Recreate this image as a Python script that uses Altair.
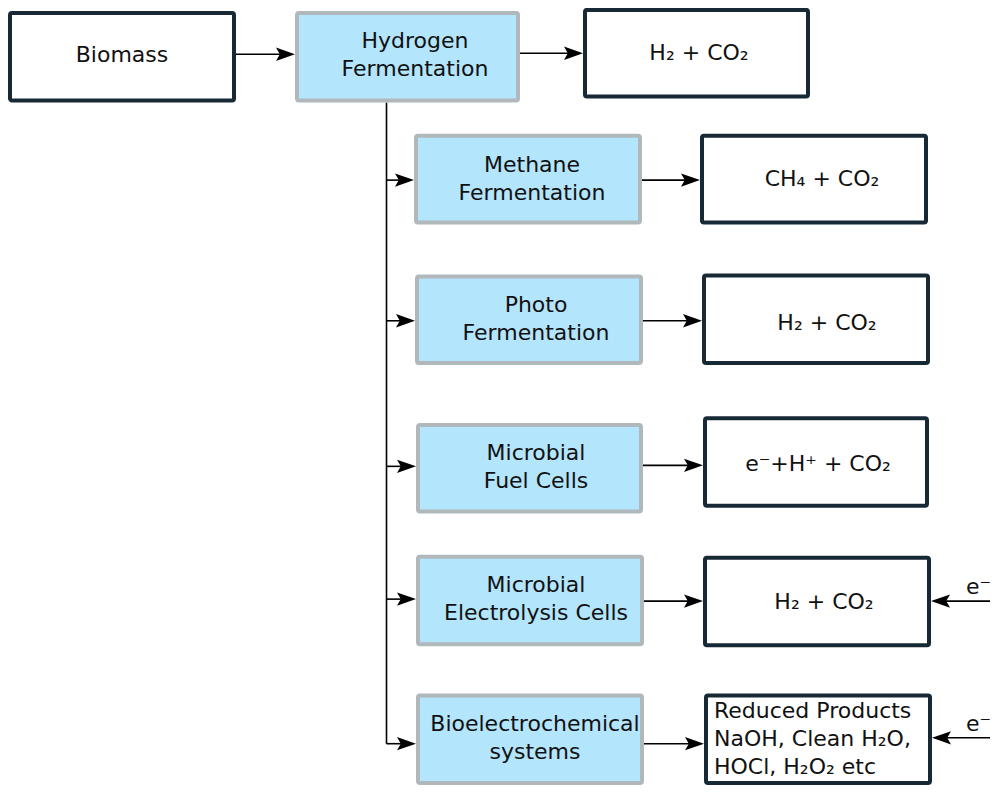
import altair as alt
import pandas as pd

# ---------------- content ----------------
source_label = ["Biomass"]
process_labels = [
    "Hydrogen\nFermentation",
    "Methane\nFermentation",
    "Photo\nFermentation",
    "Microbial\nFuel Cells",
    "Microbial\nElectrolysis Cells",
    "Bioelectrochemical\nsystems",
]
product_labels = [
    "H₂ + CO₂",
    "CH₄ + CO₂",
    "H₂ + CO₂",
    "e⁻+H⁺ + CO₂",
    "H₂ + CO₂",
    "Reduced Products\nNaOH, Clean H₂O,\nHOCl, H₂O₂ etc",
]
electron_label = "e⁻"
electron_targets = [4, 5]  # products that receive electrons

# ---------------- layout (image pixels, outer box edges) ----------------
source_box = [8, 236, 5, 98]
source_text = [122, 50]
process_x0 = [295, 414, 415, 416, 416, 416]
process_x1 = [520, 642, 643, 643, 644, 644]
process_y0 = [5, 130, 273, 424, 558, 699]
process_y1 = [98, 222, 365, 516, 651, 792]
product_x0 = [583, 700, 702, 703, 703, 704]
product_x1 = [810, 928, 930, 929, 931, 932]
product_y0 = [2, 130, 272, 417, 559, 699]
product_y1 = [94, 222, 365, 510, 652, 792]
process_text_x = [415, 532, 536, 536, 536, 535]
process_text_y = [50, 176, 318, 468, 603, 744]
product_text_x = [699, 822, 827, 818, 824, 714]
product_text_y = [48, 176, 322, 466, 606, 745]
link_y_in = [49, 177, 320, 468, 603, 750]
link_y_out = [48, 177, 320, 467, 605, 750]
trunk_x = 386.5
electron_y = [605, 744]
electron_start_x = 990
electron_text_x = 966
electron_text_dy = -7

STROKE = 4
DARK = "#182936"
GREY = "#b1b8bc"
BLUE = "#b3e5fc"
FONT = "DejaVu Sans"
FS = 22
LH = 28

# ---------------- tables ----------------
boxes = [dict(x0=source_box[0], x1=source_box[1], y0=source_box[2], y1=source_box[3], kind="io")]
for i in range(len(process_labels)):
    boxes.append(dict(x0=process_x0[i], x1=process_x1[i], y0=process_y0[i], y1=process_y1[i], kind="process"))
for i in range(len(product_labels)):
    boxes.append(dict(x0=product_x0[i], x1=product_x1[i], y0=product_y0[i], y1=product_y1[i], kind="io"))
box_df = pd.DataFrame(boxes)
h = STROKE / 2
box_df["x0"] += h
box_df["x1"] -= h
box_df["y0"] += h
box_df["y1"] -= h


def first_line_y(label, center):
    n = label.count("\n") + 1
    return center - (n - 1) * LH / 2


texts_c = [dict(label=source_label[0], x=source_text[0], y=source_text[1])]
for i, lab in enumerate(process_labels):
    texts_c.append(dict(label=lab, x=process_text_x[i], y=first_line_y(lab, process_text_y[i])))
texts_l = []
for i, lab in enumerate(product_labels):
    row = dict(label=lab, x=product_text_x[i], y=first_line_y(lab, product_text_y[i]))
    if "\n" in lab:
        texts_l.append(row)
    else:
        texts_c.append(row)
text_c_df = pd.DataFrame(texts_c)
text_l_df = pd.DataFrame(texts_l)

edges = []
edges.append(dict(xs=source_box[1], xt=process_x0[0], y=link_y_in[0], d="r"))
for i in range(1, len(process_labels)):
    edges.append(dict(xs=trunk_x, xt=process_x0[i], y=link_y_in[i], d="r"))
for i in range(len(product_labels)):
    edges.append(dict(xs=process_x1[i], xt=product_x0[i], y=link_y_out[i], d="r"))
for k, j in enumerate(electron_targets):
    edges.append(dict(xs=electron_start_x, xt=product_x1[j], y=electron_y[k], d="l"))
edge_df = pd.DataFrame(edges)
edge_df["sign"] = edge_df["d"].map({"r": 1, "l": -1})
edge_df["xe"] = edge_df["xt"] - edge_df["sign"] * 12
edge_df["xh"] = edge_df["xt"] - edge_df["sign"] * 9.5

trunk_df = pd.DataFrame([dict(x=trunk_x, y0=process_y1[0], y1=link_y_in[-1])])

e_df = pd.DataFrame([dict(label=electron_label, x=electron_text_x, y=y + electron_text_dy) for y in electron_y])

# ---------------- chart ----------------
xs = alt.Scale(domain=[8, 990], nice=False, zero=False)
ys = alt.Scale(domain=[2, 793], nice=False, zero=False, reverse=True)

rects = alt.Chart(box_df).mark_rect(strokeWidth=STROKE, cornerRadius=2).encode(
    x=alt.X("x0:Q", scale=xs, axis=None),
    x2="x1:Q",
    y=alt.Y("y0:Q", scale=ys, axis=None),
    y2="y1:Q",
    fill=alt.Fill("kind:N", scale=alt.Scale(domain=["io", "process"], range=["white", BLUE]), legend=None),
    stroke=alt.Stroke("kind:N", scale=alt.Scale(domain=["io", "process"], range=[DARK, GREY]), legend=None),
)

lines = alt.Chart(edge_df).mark_rule(color="black", strokeWidth=1.6).encode(
    x=alt.X("xs:Q", scale=xs, axis=None),
    x2="xe:Q",
    y=alt.Y("y:Q", scale=ys, axis=None),
)

trunk = alt.Chart(trunk_df).mark_rule(color="black", strokeWidth=1.6).encode(
    x=alt.X("x:Q", scale=xs, axis=None),
    y=alt.Y("y0:Q", scale=ys, axis=None),
    y2="y1:Q",
)

path_r = "M 1 0 L -1 -0.7 L -0.6 0 L -1 0.7 Z"
path_l = "M -1 0 L 1 -0.7 L 0.6 0 L 1 0.7 Z"
heads = alt.Chart(edge_df).mark_point(filled=True, size=361, opacity=1, color="black").encode(
    x=alt.X("xh:Q", scale=xs, axis=None),
    y=alt.Y("y:Q", scale=ys, axis=None),
    shape=alt.Shape("d:N", scale=alt.Scale(domain=["r", "l"], range=[path_r, path_l]), legend=None),
)

txt_c = alt.Chart(text_c_df).mark_text(
    font=FONT, fontSize=FS, lineHeight=LH, lineBreak="\n", align="center", baseline="middle", color="#111111"
).encode(
    x=alt.X("x:Q", scale=xs, axis=None),
    y=alt.Y("y:Q", scale=ys, axis=None),
    text="label:N",
)

txt_l = alt.Chart(text_l_df).mark_text(
    font=FONT, fontSize=FS, lineHeight=LH, lineBreak="\n", align="left", baseline="middle", color="#111111"
).encode(
    x=alt.X("x:Q", scale=xs, axis=None),
    y=alt.Y("y:Q", scale=ys, axis=None),
    text="label:N",
)

txt_e = alt.Chart(e_df).mark_text(
    font=FONT, fontSize=FS, align="left", baseline="alphabetic", color="#111111"
).encode(
    x=alt.X("x:Q", scale=xs, axis=None),
    y=alt.Y("y:Q", scale=ys, axis=None),
    text="label:N",
)

chart = alt.layer(trunk, lines, heads, rects, txt_c, txt_l, txt_e).properties(
    width=982, height=778, autosize=alt.AutoSizeParams(type="none"), padding=0, background="white"
).configure_view(stroke=None)

chart.save("out.html", embed_options={"renderer": "svg", "actions": False})
